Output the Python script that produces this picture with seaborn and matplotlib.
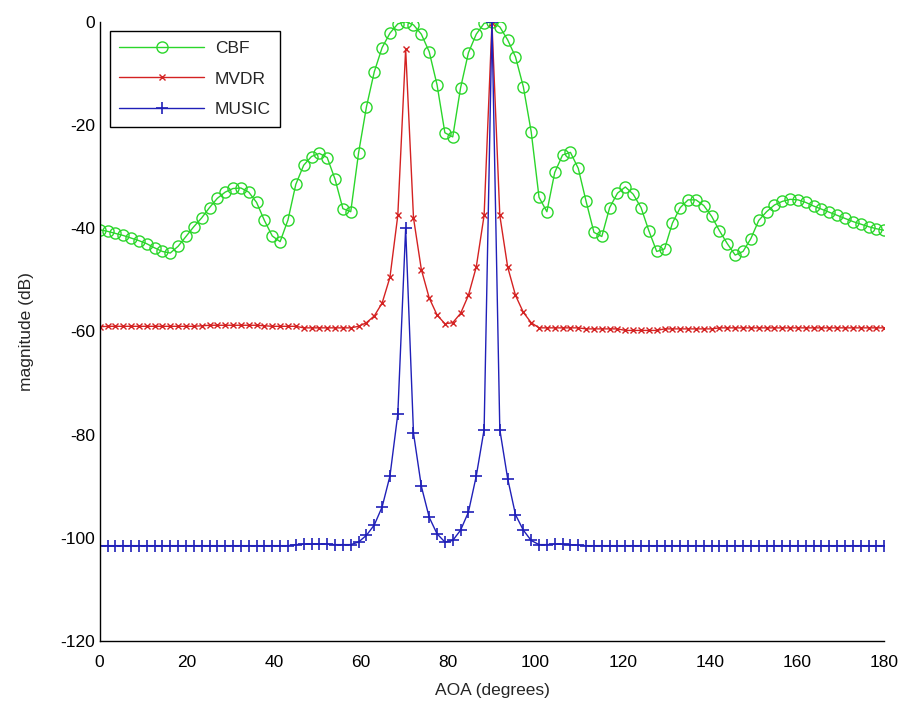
import numpy as np
import pandas as pd
import matplotlib
matplotlib.use("Agg")
import matplotlib.pyplot as plt
import seaborn as sns

# Angle grid: 101 samples from 0 to 180 degrees
aoa = np.linspace(0, 180, 101)

cbf_db = [
    -40.3, -40.6, -41.0, -41.4, -41.9, -42.4, -43.0, -43.8, -44.5, -44.8,
    -43.5, -41.6, -39.7, -38.0, -36.0, -34.2, -33.0, -32.3, -32.2, -33.0,
    -35.0, -38.5, -41.5, -42.6, -38.4, -31.5, -27.8, -26.1, -25.5, -26.3,
    -30.5, -36.2, -36.8, -25.4, -16.5, -9.7, -5.0, -2.2, -0.4, 0.0,
    -0.6, -2.4, -5.8, -12.2, -21.5, -22.3, -12.8, -6.0, -2.4, -0.3,
    0.0, -1.0, -3.5, -6.8, -12.6, -21.3, -34.0, -36.8, -29.2, -25.8,
    -25.3, -28.4, -34.8, -40.8, -41.6, -36.0, -33.2, -32.0, -33.4, -36.0,
    -40.5, -44.5, -44.0, -39.0, -36.0, -34.5, -34.5, -35.6, -37.7, -40.5,
    -43.0, -45.2, -44.5, -42.0, -38.5, -36.8, -35.5, -34.8, -34.4, -34.5,
    -35.0, -35.7, -36.3, -36.9, -37.5, -38.1, -38.7, -39.2, -39.7, -40.1,
    -40.4,
]

mvdr_db = [
    -59.1, -59.0, -59.0, -59.0, -59.0, -59.0, -59.0, -59.0, -59.0, -59.0,
    -59.0, -59.0, -59.0, -58.9, -58.8, -58.8, -58.8, -58.8, -58.8, -58.8,
    -58.8, -58.9, -59.0, -59.0, -59.0, -59.0, -59.3, -59.3, -59.3, -59.3,
    -59.3, -59.3, -59.3, -59.0, -58.3, -57.0, -54.5, -49.5, -37.5, -5.3,
    -38.0, -48.0, -53.5, -56.8, -58.5, -58.3, -56.5, -53.0, -47.5, -37.5,
    -0.3, -37.5, -47.5, -53.0, -56.3, -58.3, -59.3, -59.3, -59.3, -59.3,
    -59.3, -59.3, -59.5, -59.5, -59.5, -59.5, -59.5, -59.8, -59.8, -59.8,
    -59.8, -59.8, -59.5, -59.5, -59.5, -59.5, -59.5, -59.5, -59.5, -59.3,
    -59.3, -59.3, -59.3, -59.3, -59.3, -59.3, -59.3, -59.3, -59.3, -59.3,
    -59.3, -59.3, -59.3, -59.3, -59.3, -59.3, -59.3, -59.3, -59.3, -59.3,
    -59.3,
]

music_db = [
    -101.5, -101.5, -101.5, -101.5, -101.5, -101.5, -101.5, -101.5, -101.5, -101.5,
    -101.5, -101.5, -101.5, -101.5, -101.5, -101.5, -101.5, -101.5, -101.5, -101.5,
    -101.5, -101.5, -101.5, -101.5, -101.5, -101.3, -101.2, -101.2, -101.2, -101.2,
    -101.3, -101.3, -101.3, -100.8, -99.5, -97.5, -94.0, -88.0, -76.0, -40.0,
    -79.7, -90.0, -96.0, -99.2, -100.8, -100.5, -98.5, -95.0, -88.0, -79.0,
    0.0, -79.0, -88.5, -95.5, -98.5, -100.5, -101.3, -101.3, -101.2, -101.2,
    -101.3, -101.4, -101.5, -101.5, -101.5, -101.5, -101.5, -101.5, -101.5, -101.5,
    -101.5, -101.5, -101.5, -101.5, -101.5, -101.5, -101.5, -101.5, -101.5, -101.5,
    -101.5, -101.5, -101.5, -101.5, -101.5, -101.5, -101.5, -101.5, -101.5, -101.5,
    -101.5, -101.5, -101.5, -101.5, -101.5, -101.5, -101.5, -101.5, -101.5, -101.5,
    -101.5,
]

x_ticks = [0, 20, 40, 60, 80, 100, 120, 140, 160, 180]
y_ticks = [-120, -100, -80, -60, -40, -20, 0]

sns.set_style("white")
plt.rcParams["font.family"] = ["Liberation Sans", "DejaVu Sans"]
plt.rcParams["axes.unicode_minus"] = False

fig = plt.figure(figsize=(9.06, 7.03), dpi=100)
ax = fig.add_axes([0.110, 0.088, 0.866, 0.881])

df = pd.DataFrame({"aoa": aoa, "CBF": cbf_db, "MVDR": mvdr_db, "MUSIC": music_db})

sns.lineplot(data=df, x="aoa", y="CBF", ax=ax, color="#2bd62b", lw=1.0,
             marker="o", markersize=8, markerfacecolor="none",
             markeredgecolor="#2bd62b", markeredgewidth=1.0, label="CBF")
sns.lineplot(data=df, x="aoa", y="MVDR", ax=ax, color="#d42222", lw=1.0,
             marker="x", markersize=4.5, markeredgecolor="#d42222",
             markeredgewidth=1.0, label="MVDR")
sns.lineplot(data=df, x="aoa", y="MUSIC", ax=ax, color="#2020b8", lw=1.0,
             marker="+", markersize=9, markeredgecolor="#2020b8",
             markeredgewidth=1.2, label="MUSIC")

ax.set_xlim(0, 180)
ax.set_ylim(-120, 0)
ax.set_xticks(x_ticks)
ax.set_yticks(y_ticks)
ax.tick_params(direction="in", length=5, width=1, labelsize=12.5, colors="black")
ax.tick_params(axis="x", pad=10)
for side in ("top", "right"):
    ax.spines[side].set_visible(False)
for side in ("left", "bottom"):
    ax.spines[side].set_color("black")
    ax.spines[side].set_linewidth(1.0)

ax.set_xlabel("AOA (degrees)", fontsize=12.5, labelpad=9)
ax.set_ylabel("magnitude (dB)", fontsize=12.5, labelpad=19)

leg = ax.legend(loc="upper left", bbox_to_anchor=(0.013, 0.985), borderaxespad=0,
                fontsize=12.5, handlelength=4.9, handletextpad=0.6,
                fancybox=False, framealpha=1.0, edgecolor="black",
                borderpad=0.55, labelspacing=0.9)
leg.get_frame().set_linewidth(1.0)

fig.savefig("out.png", dpi=100, facecolor="white")
